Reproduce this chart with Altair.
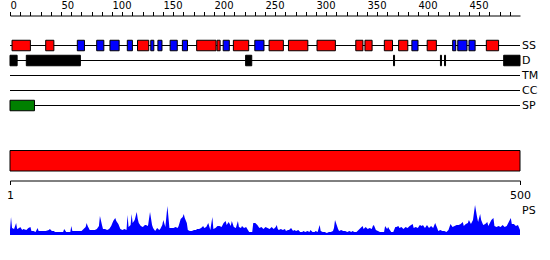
import altair as alt
import pandas as pd

seq_len = 500
track_names = ["SS", "D", "TM", "CC", "SP"]

# secondary structure elements (H = helix, red; E = strand, blue)
ss_start = [2, 35, 66, 85, 98, 115, 125, 138, 145, 157, 169, 183, 203, 209, 219,
            240, 254, 273, 301, 339, 348, 367, 381, 394, 409, 434, 439, 450, 467]
ss_end = [20, 43, 73, 92, 107, 120, 136, 141, 149, 164, 174, 202, 206, 215, 234,
          249, 268, 292, 319, 346, 355, 375, 390, 400, 418, 437, 448, 456, 479]
ss_type = ["H", "H", "E", "E", "E", "E", "H", "E", "E", "E", "E", "H", "H", "E", "H",
           "E", "H", "H", "H", "H", "H", "H", "H", "E", "H", "E", "E", "E", "H"]

# disordered regions
d_start = [0, 16, 231, 376, 422, 426, 484]
d_end = [7, 69, 237, 377, 423, 427, 500]

# signal peptide
sp_start = [0]
sp_end = [24]

ruler_ticks = list(range(0, 500, 10))
ruler_labels = [0, 50, 100, 150, 200, 250, 300, 350, 400, 450]
bottom_ticks = [1, 500]

ps_residue = [
    1, 2, 3, 5, 7, 8, 10, 11, 13, 14,
    17, 19, 21, 22, 24, 26, 28, 29, 30, 33,
    36, 39, 40, 42, 44, 45, 48, 51, 53, 54,
    56, 58, 60, 61, 62, 65, 68, 71, 73, 75,
    76, 77, 79, 82, 84, 86, 88, 89, 91, 92,
    94, 96, 98, 100, 102, 104, 105, 107, 109, 111,
    113, 115, 116, 117, 119, 120, 121, 123, 125, 126,
    127, 129, 131, 133, 134, 136, 138, 140, 141, 143,
    145, 147, 148, 150, 151, 153, 155, 157, 159, 161,
    163, 165, 166, 168, 170, 171, 172, 174, 175, 177,
    179, 181, 183, 184, 186, 188, 190, 191, 193, 195,
    197, 199, 200, 202, 204, 206, 208, 210, 212, 213,
    215, 217, 218, 220, 222, 224, 225, 227, 228, 230,
    232, 235, 236, 238, 239, 241, 243, 245, 247, 249,
    251, 253, 255, 257, 259, 260, 261, 262, 263, 264,
    266, 268, 270, 271, 273, 274, 276, 278, 279, 281,
    283, 285, 287, 288, 290, 292, 294, 295, 297, 299,
    300, 302, 304, 305, 307, 309, 311, 313, 315, 317,
    318, 319, 321, 322, 323, 325, 327, 329, 331, 333,
    335, 336, 338, 340, 342, 346, 347, 349, 351, 353,
    355, 356, 357, 359, 361, 363, 365, 367, 368, 370,
    371, 372, 374, 376, 378, 379, 381, 382, 384, 386,
    388, 390, 392, 395, 396, 398, 400, 402, 404, 405,
    407, 409, 411, 413, 415, 417, 419, 420, 422, 424,
    426, 428, 430, 432, 434, 436, 438, 440, 442, 444,
    445, 447, 449, 450, 452, 454, 456, 458, 459, 461,
    462, 464, 466, 468, 469, 470, 472, 474, 475, 477,
    479, 481, 483, 485, 487, 489, 491, 492, 494, 496,
    498, 500,
]
ps_score = [
    5, 18, 7, 6, 12, 6, 7, 8, 5, 6,
    5, 7, 8, 4, 4, 3, 7, 4, 4, 4,
    4, 5, 6, 4, 4, 3, 3, 3, 3, 6,
    3, 3, 3, 9, 4, 4, 4, 4, 6, 8,
    12, 9, 5, 5, 5, 6, 9, 19, 10, 6,
    6, 5, 6, 9, 14, 17, 14, 11, 6, 5,
    6, 5, 20, 8, 10, 21, 12, 15, 23, 16,
    12, 9, 8, 10, 10, 9, 23, 10, 7, 4,
    7, 5, 6, 10, 15, 8, 29, 7, 7, 7,
    8, 7, 9, 16, 18, 21, 17, 12, 5, 4,
    4, 5, 5, 6, 6, 7, 9, 7, 8, 12,
    5, 18, 6, 7, 9, 9, 8, 12, 14, 10,
    13, 9, 14, 8, 7, 14, 8, 7, 9, 7,
    8, 3, 3, 3, 12, 12, 10, 7, 8, 6,
    8, 7, 6, 8, 6, 7, 8, 10, 6, 5,
    6, 5, 6, 4, 5, 5, 7, 4, 5, 4,
    5, 3, 3, 4, 3, 4, 3, 5, 3, 3,
    4, 3, 10, 4, 3, 3, 2, 3, 3, 4,
    7, 15, 9, 6, 4, 5, 4, 4, 3, 4,
    3, 4, 3, 3, 5, 9, 6, 8, 6, 7,
    6, 9, 10, 5, 4, 3, 3, 3, 9, 6,
    8, 6, 3, 3, 8, 8, 9, 7, 8, 6,
    8, 7, 9, 11, 7, 8, 7, 10, 9, 10,
    7, 10, 7, 9, 7, 12, 7, 4, 5, 4,
    4, 3, 5, 11, 8, 9, 10, 10, 11, 13,
    9, 11, 12, 15, 11, 15, 30, 18, 13, 21,
    15, 10, 11, 13, 9, 11, 15, 17, 9, 8,
    9, 8, 10, 8, 9, 13, 17, 11, 11, 9,
    10, 5,
]
assert len(ps_residue) == len(ps_score)

FONT = "DejaVu Sans"
idx_of = {n: i for i, n in enumerate(track_names)}

tracks = pd.DataFrame({
    "name": track_names,
    "idx": list(range(len(track_names))),
    "start": [0] * len(track_names),
    "end": [seq_len] * len(track_names),
})

rows = []
for s, e, t in zip(ss_start, ss_end, ss_type):
    rows.append({"idx": idx_of["SS"], "start": s, "end": e, "kind": t})
for s, e in zip(d_start, d_end):
    rows.append({"idx": idx_of["D"], "start": s, "end": e, "kind": "D"})
for s, e in zip(sp_start, sp_end):
    rows.append({"idx": idx_of["SP"], "start": s, "end": e, "kind": "SP"})
features = pd.DataFrame(rows)

xA = alt.Scale(domain=[0, seq_len], range=[10, 520], nice=False, zero=False)
xB = alt.Scale(domain=[1, seq_len], range=[10, 520], nice=False, zero=False)
yT = alt.Scale(domain=[0, len(track_names) - 1], range=[45.5, 105.5], nice=False, zero=False)

label_list = ",".join(str(v) for v in ruler_labels)
top_axis = alt.Axis(
    orient="top", offset=-15.5, values=ruler_ticks,
    labelExpr=f"indexof([{label_list}], datum.value) >= 0 ? datum.label : ''",
    domainColor="black", domainWidth=1, tickColor="black", tickWidth=1, tickSize=4,
    labelColor="black", labelFont=FONT, labelFontSize=10, labelAlign="left",
    labelPadding=1, labelOverlap=False, labelFlush=False, grid=False, title=None,
)
bottom_axis = alt.Axis(
    orient="bottom", offset=-79.5, values=bottom_ticks,
    domainColor="black", domainWidth=1, tickColor="black", tickWidth=1, tickSize=4,
    labelColor="black", labelFont=FONT, labelFontSize=11, labelAlign="center",
    labelPadding=5, labelOverlap=False, labelFlush=False, grid=False, title=None,
)

rules = alt.Chart(tracks).mark_rule(color="black", strokeWidth=1).encode(
    x=alt.X("start:Q", scale=xA, axis=top_axis),
    x2="end:Q",
    y=alt.Y("idx:Q", scale=yT, axis=None),
)

boxes = alt.Chart(features).transform_calculate(
    y0="datum.idx - 0.35", y1="datum.idx + 0.35"
).mark_rect(stroke="black", strokeWidth=1).encode(
    x=alt.X("start:Q", scale=xA, axis=None),
    x2="end:Q",
    y=alt.Y("y0:Q", scale=yT, axis=None),
    y2="y1:Q",
    color=alt.Color("kind:N", scale=alt.Scale(domain=["H", "E", "D", "SP"],
                    range=["#ff0000", "#0000ff", "#000000", "#008000"]), legend=None),
)

labels = alt.Chart(tracks).mark_text(
    align="left", baseline="middle", dx=2, font=FONT, fontSize=11, color="black"
).encode(
    x=alt.X("end:Q", scale=xA, axis=None),
    y=alt.Y("idx:Q", scale=yT, axis=None),
    text="name:N",
)

bar_df = pd.DataFrame({"start": [1], "end": [seq_len], "lo": [0], "hi": [1]})
bar = alt.Chart(bar_df).mark_rect(color="#ff0000", stroke="black", strokeWidth=1).encode(
    x=alt.X("start:Q", scale=xB, axis=bottom_axis),
    x2="end:Q",
    y=alt.Y("lo:Q", scale=alt.Scale(domain=[0, 1], range=[171, 150.5]), axis=None),
    y2="hi:Q",
)

ps_df = pd.DataFrame({"residue": ps_residue, "score": ps_score})
area = alt.Chart(ps_df).mark_area(color="#0000ff", interpolate="linear").encode(
    x=alt.X("residue:Q", scale=xB, axis=None),
    y=alt.Y("score:Q", scale=alt.Scale(domain=[0, 30], range=[235, 205]), axis=None),
)

ps_label = alt.Chart(pd.DataFrame({"name": ["PS"], "end": [seq_len]})).mark_text(
    align="left", baseline="middle", dx=2, font=FONT, fontSize=11, color="black"
).encode(
    x=alt.X("end:Q", scale=xB, axis=None),
    y=alt.value(211),
    text="name:N",
)

chart = alt.layer(rules, boxes, labels, bar, area, ps_label).resolve_scale(
    x="independent", y="independent"
).properties(
    width=550, height=260, padding=0,
    autosize=alt.AutoSizeParams(type="none"),
    background="white",
).configure_view(strokeWidth=0)

chart.save("out.html", embed_options={"renderer": "svg", "actions": False})
